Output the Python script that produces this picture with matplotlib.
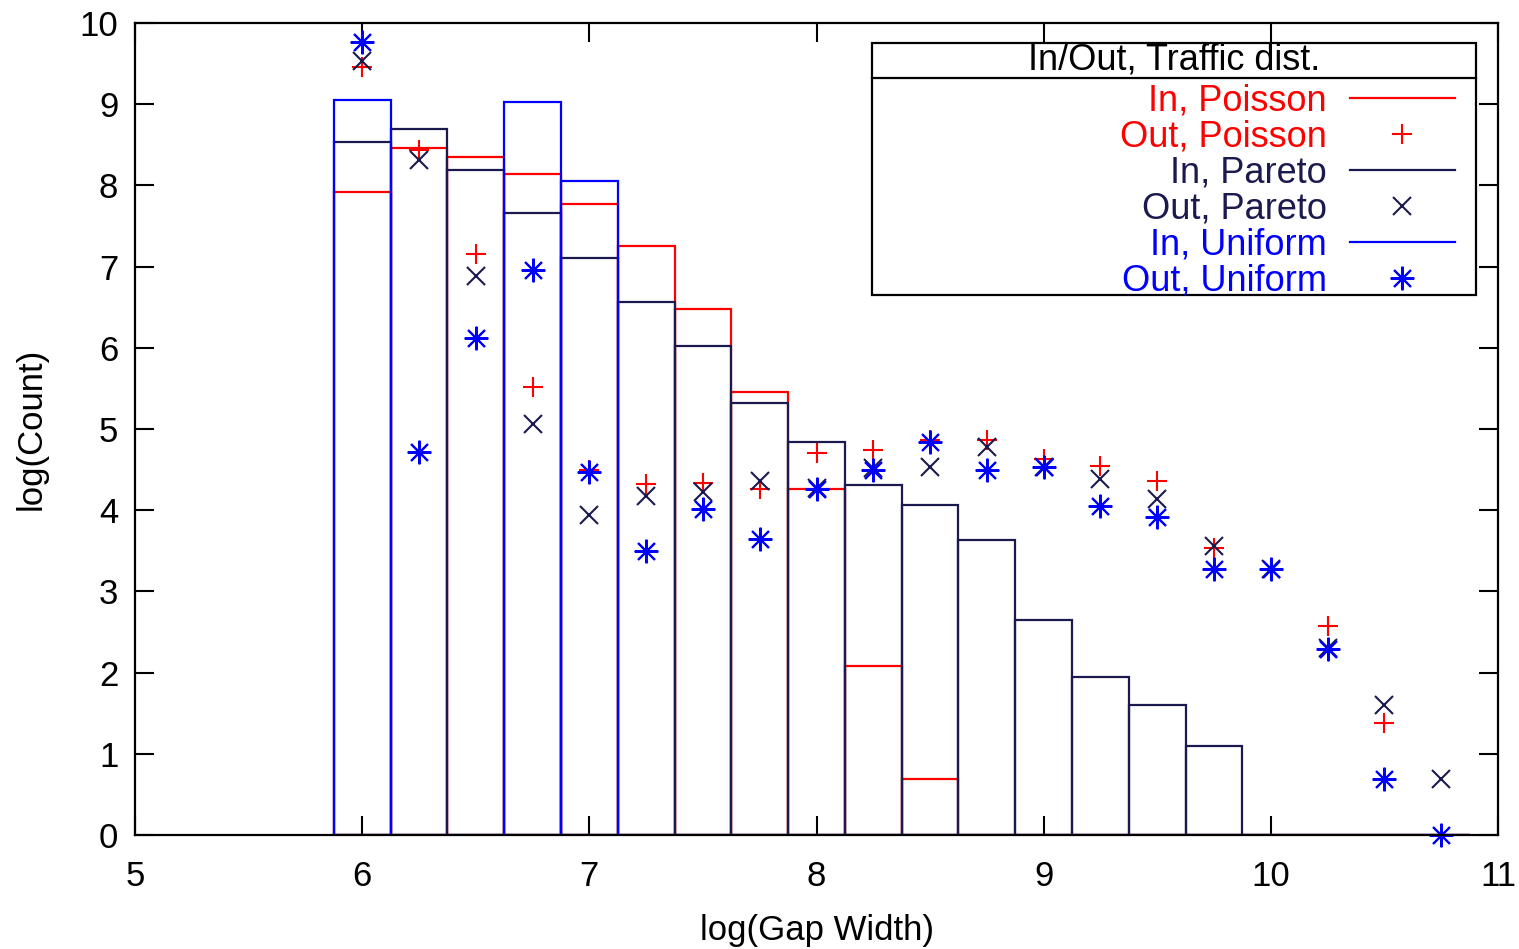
import numpy as np
import matplotlib
matplotlib.use("Agg")
import matplotlib.pyplot as plt
from matplotlib.lines import Line2D
from matplotlib.patches import Rectangle

plt.rcParams['font.family'] = ['Liberation Sans', 'DejaVu Sans']

# ---- data ----
bin_centers = [6.0, 6.25, 6.5, 6.75, 7.0, 7.25, 7.5, 7.75, 8.0, 8.25,
               8.5, 8.75, 9.0, 9.25, 9.5, 9.75, 10.0, 10.25, 10.5, 10.75]
bin_width = 0.25

in_poisson = [7.92, 8.46, 8.35, 8.14, 7.77, 7.25, 6.48, 5.46, 4.26, 2.08,
              0.69, 0, 0, 0, 0, 0, 0, 0, 0, 0]
in_pareto = [8.54, 8.70, 8.19, 7.66, 7.10, 6.56, 6.02, 5.32, 4.84, 4.31,
             4.06, 3.63, 2.65, 1.95, 1.60, 1.09, 0, 0, 0, 0]
in_uniform = [9.05, 0, 0, 9.03, 8.05, 0, 0, 0, 0, 0,
              0, 0, 0, 0, 0, 0, 0, 0, 0, 0]

nan = float('nan')
out_poisson = [9.46, 8.44, 7.15, 5.52, 4.50, 4.32, 4.34, 4.26, 4.71, 4.74,
               4.86, 4.87, 4.63, 4.54, 4.36, 3.54, 3.28, 2.57, 1.38, nan]
out_pareto = [9.53, 8.31, 6.88, 5.06, 3.94, 4.17, 4.23, 4.36, 4.27, 4.52,
              4.53, 4.78, 4.53, 4.38, 4.14, 3.56, 3.28, 2.30, 1.60, 0.69]
out_uniform = [9.77, 4.72, 6.12, 6.96, 4.47, 3.50, 4.01, 3.64, 4.26, 4.50,
               4.84, 4.50, 4.53, 4.05, 3.92, 3.28, 3.27, 2.29, 0.69, 0.0]

labels = ["In, Poisson", "Out, Poisson", "In, Pareto", "Out, Pareto",
          "In, Uniform", "Out, Uniform"]
legend_title = "In/Out, Traffic dist."
x_ticks = [5, 6, 7, 8, 9, 10, 11]
y_ticks = [0, 1, 2, 3, 4, 5, 6, 7, 8, 9, 10]

RED = '#ff0000'
NAVY = '#1a1a4e'
BLUE = '#0000ff'

FS = 25
LFS = 26

fig = plt.figure(figsize=(15.19, 9.49), dpi=100)
ax = fig.add_axes([135/1519, 1-835/949, (1498-135)/1519, (835-23)/949])

x = np.array(bin_centers)
lw = 1.6

ax.bar(x, in_poisson, width=bin_width, fill=False, edgecolor=RED, linewidth=lw, zorder=2)
ax.plot(x, out_poisson, linestyle='none', marker='+', color=RED,
        markersize=15, markeredgewidth=1.5, zorder=3)
ax.bar(x, in_pareto, width=bin_width, fill=False, edgecolor=NAVY, linewidth=lw, zorder=4)
ax.plot(x, out_pareto, linestyle='none', marker='x', color=NAVY,
        markersize=13, markeredgewidth=1.5, zorder=5)
ax.bar(x, in_uniform, width=bin_width, fill=False, edgecolor=BLUE, linewidth=lw, zorder=6)
ax.plot(x, out_uniform, linestyle='none', marker=(8, 2, 0), color=BLUE,
        markersize=17, markeredgewidth=1.5, zorder=7, clip_on=False)

ax.set_xlim(5, 11)
ax.set_ylim(0, 10)
ax.set_xticks(x_ticks)
ax.set_yticks(y_ticks)
ax.tick_params(axis='both', direction='in', length=14, width=1.5,
               labelsize=FS, top=True, right=True)
ax.tick_params(axis='x', pad=18)
ax.tick_params(axis='y', pad=12)
for s in ax.spines.values():
    s.set_linewidth(1.6)
    s.set_zorder(10)

ax.set_xlabel("log(Gap Width)", fontsize=FS, labelpad=15)
ax.set_ylabel("log(Count)", fontsize=FS, labelpad=23)

# legend
handles = [
    Line2D([], [], color=RED, linewidth=1.6),
    Line2D([], [], color=RED, linestyle='none', marker='+', markersize=15, markeredgewidth=1.5),
    Line2D([], [], color=NAVY, linewidth=1.6),
    Line2D([], [], color=NAVY, linestyle='none', marker='x', markersize=13, markeredgewidth=1.5),
    Line2D([], [], color=BLUE, linewidth=1.6),
    Line2D([], [], color=BLUE, linestyle='none', marker=(8, 2, 0), markersize=17, markeredgewidth=1.5),
]
leg = ax.legend(handles, labels, loc='upper right', bbox_to_anchor=(0.9685, 0.925),
                frameon=False, markerfirst=False, fontsize=LFS, labelspacing=0.025,
                borderpad=0, borderaxespad=0, handlelength=2.92, handletextpad=0.64,
                labelcolor=[RED, RED, NAVY, NAVY, BLUE, BLUE])
leg.set_zorder(20)

bx0, bx1 = (872-135)/1363, (1476-135)/1363
by0, by1 = (835-295)/812, (835-43)/812
bsep = (835-78)/812
ax.add_patch(Rectangle((bx0, by0), bx1-bx0, by1-by0, transform=ax.transAxes,
                       fill=True, facecolor='white', edgecolor='black', linewidth=1.6, zorder=15))
ax.plot([bx0, bx1], [bsep, bsep], transform=ax.transAxes, color='black', linewidth=1.6, zorder=16)
ax.text((bx0+bx1)/2, (bsep+by1)/2, legend_title, transform=ax.transAxes,
        ha='center', va='center', fontsize=LFS, color='black', zorder=17)

fig.savefig("out.png", dpi=100)
